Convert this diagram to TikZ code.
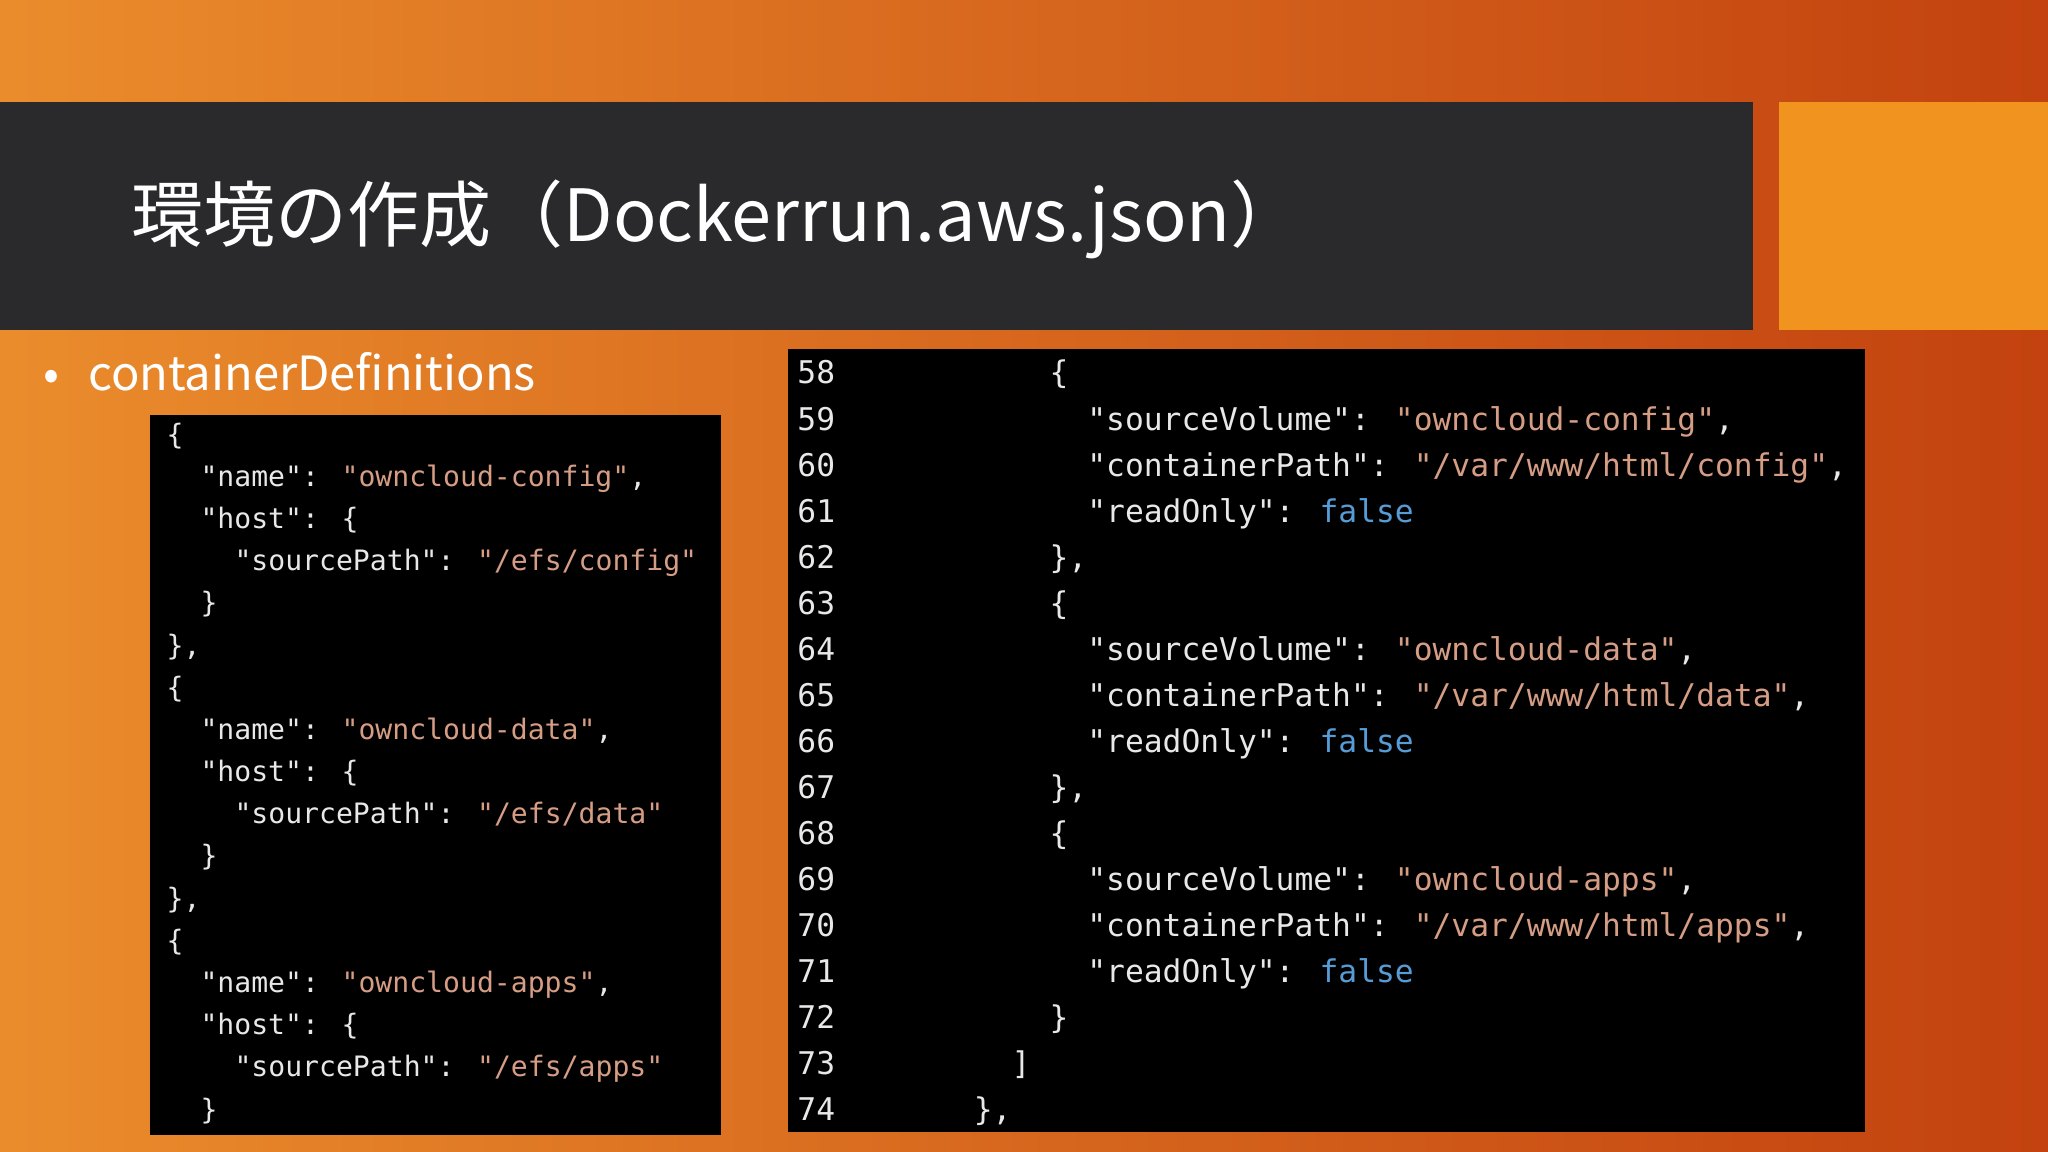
\documentclass[tikz,border=0pt]{standalone}
\usepackage{fontspec}
\setmainfont{Noto Sans CJK JP}
\newfontfamily\cjk{Noto Sans CJK JP}
\newfontfamily\code{DejaVu Sans Mono}
\definecolor{bgl}{HTML}{EA8C2C}
\definecolor{bgr}{HTML}{C3420F}
\definecolor{bar}{HTML}{2A2A2C}
\definecolor{acc}{HTML}{F0931F}
\definecolor{str}{HTML}{D69D85}
\definecolor{kw}{HTML}{569CD6}
\definecolor{txt}{HTML}{E8E8E8}
\newcommand{\js}[1]{\textcolor{str}{#1}}
\newcommand{\jk}[1]{\textcolor{kw}{#1}}
\tikzset{
  lc/.style={anchor=base west, inner sep=0pt, text=txt, font=\code\fontsize{8}{8}\selectfont},
  rc/.style={anchor=base west, inner sep=0pt, text=txt, font=\code\fontsize{8.9}{8.9}\selectfont},
  box/.style={fill=black, draw=none}
}
\begin{document}
\begin{tikzpicture}[x=0.01306cm,y=-0.01306cm]
\useasboundingbox (0,0) rectangle (1568,882);
\shade[left color=bgl, right color=bgr] (0,0) rectangle (1568,882);
\fill[bar] (0,78) rectangle (1342,253);
\fill[acc] (1362,78) rectangle (1568,253);
\node[anchor=base west, inner sep=0pt, text=white, font=\cjk\fontsize{20.5}{20.5}\selectfont] (title) at (100,185) {環境の作成（Dockerrun.aws.json）};
\node[anchor=base west, inner sep=0pt, text=white, font=\cjk\fontsize{13.4}{13.4}\selectfont] (bul) at (33,299) {•\hspace{0.6em}containerDefinitions};
\fill[box] (115,318) rectangle (552,869);
\fill[box] (603,267) rectangle (1428,867);
% left code
\foreach \ind/\t [count=\i from 0] in {
 0/{\{},
 2/{"name": \js{"owncloud-config"},},
 2/{"host": \{},
 4/{"sourcePath": \js{"/efs/config"}},
 2/{\}},
 0/{\},},
 0/{\{},
 2/{"name": \js{"owncloud-data"},},
 2/{"host": \{},
 4/{"sourcePath": \js{"/efs/data"}},
 2/{\}},
 0/{\},},
 0/{\{},
 2/{"name": \js{"owncloud-apps"},},
 2/{"host": \{},
 4/{"sourcePath": \js{"/efs/apps"}},
 2/{\}}}
 \node[lc] (l\i) at ({127+13*\ind},{340+32.3*\i}) {\t};
% right code
\foreach \ind/\t [count=\i from 0] in {
 4/{\{},
 6/{"sourceVolume": \js{"owncloud-config"},},
 6/{"containerPath": \js{"/var/www/html/config"},},
 6/{"readOnly": \jk{false}},
 4/{\},},
 4/{\{},
 6/{"sourceVolume": \js{"owncloud-data"},},
 6/{"containerPath": \js{"/var/www/html/data"},},
 6/{"readOnly": \jk{false}},
 4/{\},},
 4/{\{},
 6/{"sourceVolume": \js{"owncloud-apps"},},
 6/{"containerPath": \js{"/var/www/html/apps"},},
 6/{"readOnly": \jk{false}},
 4/{\}},
 2/{]},
 0/{\},}}
 {\pgfmathtruncatemacro\ln{58+\i}
 \node[rc] (n\i) at (610,{294+35.25*\i}) {\ln};
 \node[rc] (r\i) at ({745+14.5*\ind},{294+35.25*\i}) {\t};}
\end{tikzpicture}
\end{document}
